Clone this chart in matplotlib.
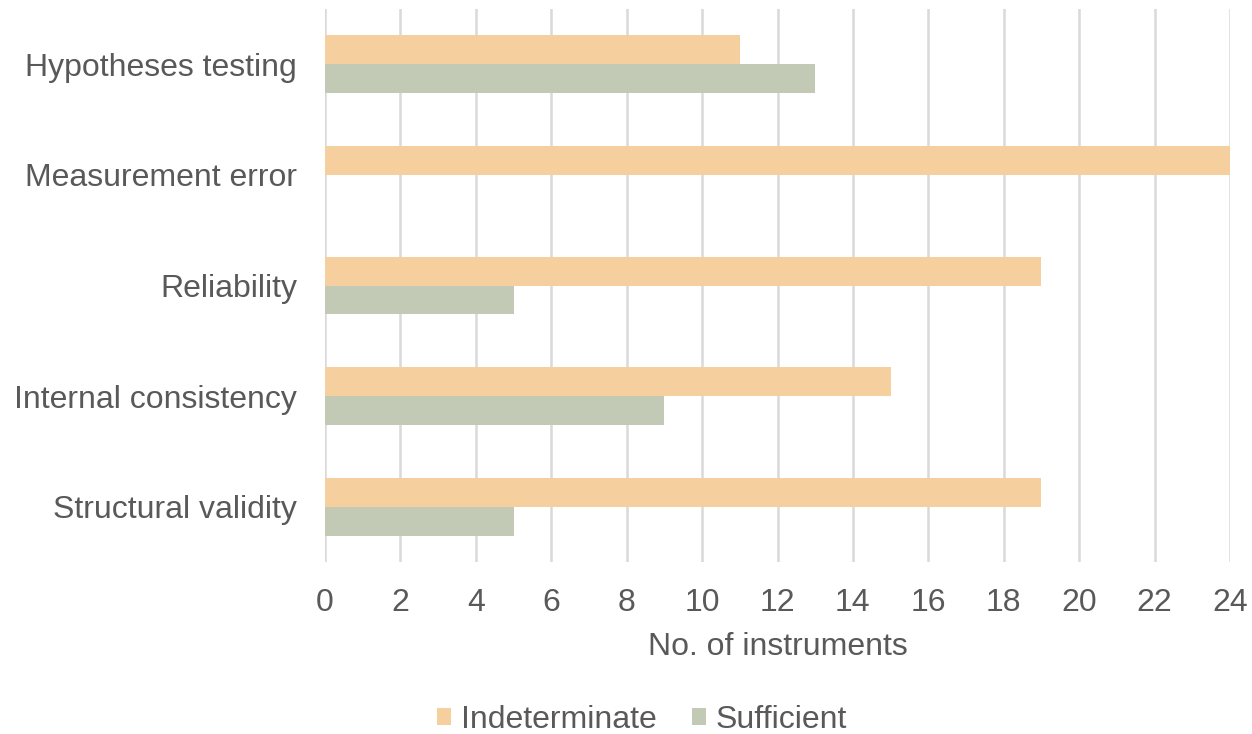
import numpy as np
import matplotlib.pyplot as plt

plt.rcParams['font.family'] = ['Liberation Sans', 'DejaVu Sans']

categories = ['Structural validity', 'Internal consistency', 'Reliability',
              'Measurement error', 'Hypotheses testing']
indeterminate = [19, 15, 19, 24, 11]
sufficient = [5, 9, 5, 0, 13]

c_ind = '#F6CF9E'
c_suf = '#C2CAB6'
grey = '#595959'

fig = plt.figure(figsize=(12.52, 7.34), dpi=100)
ax = fig.add_axes([325 / 1252, 1 - 562 / 734, 905 / 1252, 553 / 734])

y = np.arange(len(categories))
h = 0.262
ax.barh(y + h / 2, indeterminate, height=h, color=c_ind, label='Indeterminate', zorder=3)
ax.barh(y - h / 2, sufficient, height=h, color=c_suf, label='Sufficient', zorder=3)

ax.set_xlim(0, 24)
ax.set_ylim(-0.5, len(categories) - 0.5)
ax.set_xticks(range(0, 25, 2))
ax.set_yticks(y)
ax.set_yticklabels(categories)
ax.grid(axis='x', color='#D9D9D9', linewidth=1.8, zorder=0)
for s in ax.spines.values():
    s.set_visible(False)
ax.tick_params(axis='both', length=0, labelsize=23, colors=grey)
ax.tick_params(axis='y', pad=20)
ax.tick_params(axis='x', pad=19)
ax.set_xlabel('No. of instruments', fontsize=23, color=grey, labelpad=10)

handles, labels = ax.get_legend_handles_labels()
fig.legend(handles, labels, loc='center', bbox_to_anchor=(642 / 1252, 1 - 720 / 734),
           ncol=2, frameon=False, fontsize=23, labelcolor=grey,
           handlelength=0.45, handleheight=0.45, handletextpad=0.3, columnspacing=1.1)

fig.savefig('out.png', dpi=100)
